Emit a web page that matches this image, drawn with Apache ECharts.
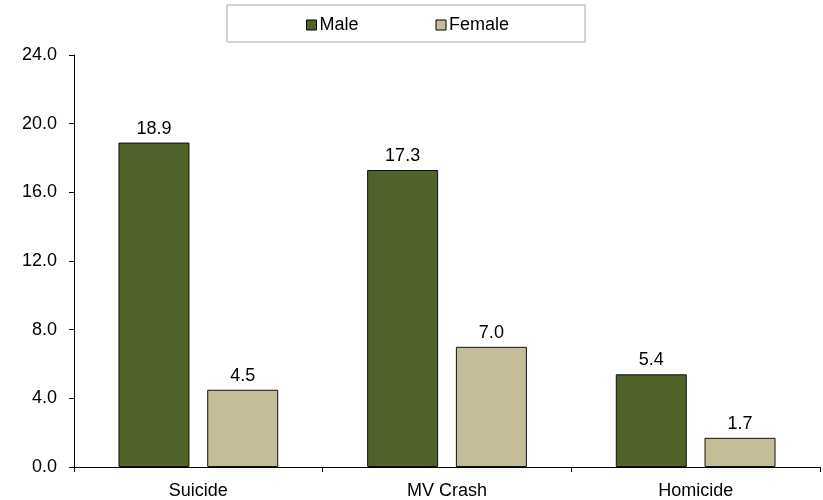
<!DOCTYPE html>
<html><head><meta charset="utf-8">
<script src="https://cdn.jsdelivr.net/npm/echarts@6/dist/echarts.min.js"></script>
<style>html,body{margin:0;padding:0;background:#fff}#c{width:823px;height:500px}</style>
</head><body><div id="c"></div>
<script>
const categories = ["Suicide", "MV Crash", "Homicide"];
const maleValues = [18.9, 17.3, 5.4];
const femaleValues = [4.5, 7.0, 1.7];
const yTicks = [0, 4, 8, 12, 16, 20, 24];

const font = "'Liberation Sans', Arial, sans-serif";
const chart = echarts.init(document.getElementById('c'));
const lbl = {show: true, position: 'top', distance: 5, color: '#000', fontSize: 18, fontFamily: font,
  formatter: p => p.value.toFixed(1)};
chart.setOption({
  animation: false,
  textStyle: {fontFamily: font},
  legend: {
    left: 227, top: 5,
    padding: [11, 76, 8, 79],
    borderColor: '#aaaaaa', borderWidth: 1,
    itemWidth: 10, itemHeight: 10, itemGap: 77,
    icon: 'rect',
    textStyle: {fontSize: 18, color: '#000', fontFamily: font, padding: [0, 0, 0, -2]},
    data: [{name: 'Male', itemStyle: {borderColor: '#000', borderWidth: 1}},
           {name: 'Female', itemStyle: {borderColor: '#000', borderWidth: 1}}]
  },
  grid: {left: 74, right: 3, top: 55, bottom: 33, containLabel: false},
  xAxis: {
    type: 'category', data: categories,
    axisLine: {lineStyle: {color: '#000', width: 1}},
    axisTick: {show: true, alignWithLabel: false, length: 5, lineStyle: {color: '#000'}},
    axisLabel: {color: '#000', fontSize: 18, fontFamily: font, margin: 15}
  },
  yAxis: {
    type: 'value', min: yTicks[0], max: yTicks[yTicks.length - 1], interval: 4,
    axisLine: {show: true, lineStyle: {color: '#000', width: 1}},
    axisTick: {show: true, length: 5, lineStyle: {color: '#000'}},
    splitLine: {show: false},
    axisLabel: {color: '#000', fontSize: 18, fontFamily: font, margin: 17,
      formatter: v => v.toFixed(1)}
  },
  series: [
    {name: 'Male', type: 'bar', data: maleValues, barWidth: 71, barGap: '25%',
     itemStyle: {color: '#4F6228', borderColor: '#111', borderWidth: 1}, label: lbl},
    {name: 'Female', type: 'bar', data: femaleValues, barWidth: 71,
     itemStyle: {color: '#C4BD97', borderColor: '#111', borderWidth: 1}, label: lbl}
  ]
});
</script></body></html>
